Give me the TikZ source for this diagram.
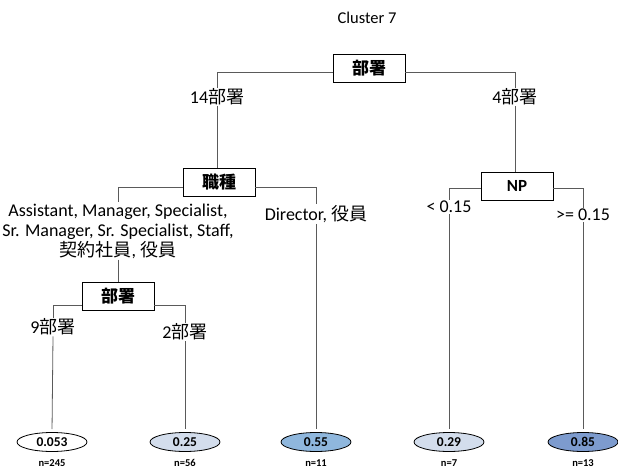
\documentclass[tikz,border=0pt]{standalone}
\usepackage{fontspec}
\setmainfont{Carlito}
\newfontfamily\jp{Noto Sans CJK JP}
\usetikzlibrary{shapes.geometric}
\definecolor{edgegray}{HTML}{5A5A5A}
\definecolor{leafpale}{HTML}{D3DDEC}
\definecolor{leafmid}{HTML}{8FB7DD}
\definecolor{leafdeep}{HTML}{7D9BCE}
\begin{document}
\begin{tikzpicture}[x=1pt,y=-1pt,
  split/.style={draw=black, line width=0.8pt, fill=white, minimum width=72pt,
    minimum height=28pt, inner sep=0pt, font=\bfseries\fontsize{17}{19}\selectfont},
  lbl/.style={font=\fontsize{18}{20}\selectfont, align=center, inner sep=1pt},
  leaf/.style={ellipse, draw=black, line width=0.8pt, minimum width=70pt,
    minimum height=19pt, inner sep=0pt, font=\bfseries\fontsize{13.5}{13.5}\selectfont},
  cnt/.style={font=\bfseries\fontsize{10.5}{11}\selectfont, inner sep=0pt},
  branch/.style={draw=edgegray, line width=0.8pt},
  tip/.style={branch, shorten >=3pt}]
  \useasboundingbox (0,0) rectangle (618,470);

  % title
  \node[font=\fontsize{16.5}{18}\selectfont] (title) at (367,18) {Cluster 7};

  % split nodes
  \node[split] (root) at (369,68) {\jp 部署};
  \node[split] (job)  at (219,182) {\jp 職種};
  \node[split] (np)   at (517,186) {NP};
  \node[split] (dept) at (118,296) {\jp 部署};

  % branch labels
  \node[lbl] (l14) at (217,97) {14{\jp 部署}};
  \node[lbl] (l4)  at (515,97) {4{\jp 部署}};
  \node[lbl] (lroles) at (118,231) {Assistant, Manager, Specialist,\\Sr. Manager, Sr. Specialist, Staff,\\{\jp 契約社員}, {\jp 役員}};
  \node[lbl] (ldir) at (316,214) {Director, {\jp 役員}};
  \node[lbl] (llt)  at (449,207) {< 0.15};
  \node[lbl] (lge)  at (583,215) {>= 0.15};
  \node[lbl] (l9)   at (53,327) {9{\jp 部署}};
  \node[lbl] (l2)   at (185,332) {2{\jp 部署}};

  % leaves
  \node[leaf, fill=white]     (f1) at (52,442)  {0.053};
  \node[leaf, fill=leafpale]  (f2) at (185,442) {0.25};
  \node[leaf, fill=leafmid]   (f3) at (316,442) {0.55};
  \node[leaf, fill=leafpale]  (f4) at (449,442) {0.29};
  \node[leaf, fill=leafdeep]  (f5) at (583,442) {0.85};

  \node[cnt] (n1) at (52,463)  {n=245};
  \node[cnt] (n2) at (185,463) {n=56};
  \node[cnt] (n3) at (316,463) {n=11};
  \node[cnt] (n4) at (449,463) {n=7};
  \node[cnt] (n5) at (583,463) {n=13};

  % root split
  \draw[branch] ([yshift=-4pt]root.west) -| (l14.north);
  \draw[branch] ([yshift=-4pt]root.east) -| (l4.north);
  \draw[branch] (l14.south) -- (l14.south |- job.north);
  \draw[branch] (l4.south) -- (l4.south |- np.north);

  % job-type split
  \draw[branch] ([yshift=-5pt]job.west) -| (lroles.north);
  \draw[branch] ([yshift=-5pt]job.east) -| (ldir.north);
  \draw[branch] (lroles.south) -- (dept.north);
  \draw[tip] (ldir.south) -- (f3.north);

  % NP split
  \draw[branch] ([yshift=-2pt]np.west) -| (llt.north);
  \draw[branch] ([yshift=-2pt]np.east) -| (lge.north);
  \draw[tip] (llt.south) -- (f4.north);
  \draw[tip] (lge.south) -- (f5.north);

  % department split
  \draw[branch] ([yshift=-9pt]dept.west) -| (l9.north);
  \draw[branch] ([yshift=-9pt]dept.east) -| (l2.north);
  \draw[tip] (l9.south) -- (f1.north);
  \draw[tip] (l2.south) -- (f2.north);
\end{tikzpicture}
\end{document}
